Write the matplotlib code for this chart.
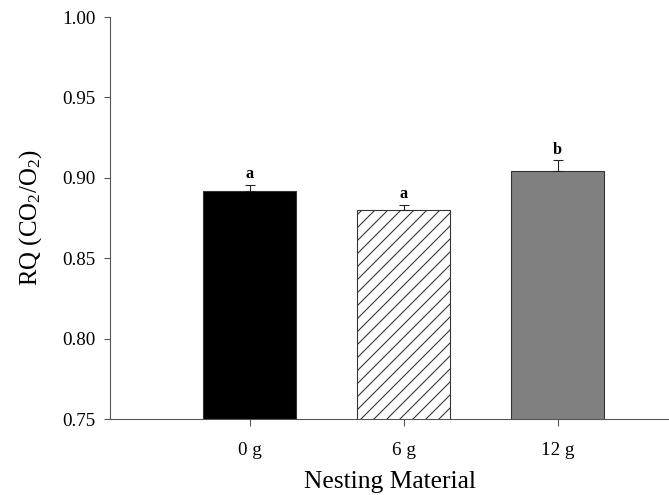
import numpy as np
import matplotlib
matplotlib.use("Agg")
import matplotlib.pyplot as plt

plt.rcParams['font.family'] = ['Liberation Serif', 'DejaVu Serif']
plt.rcParams['mathtext.default'] = 'regular'
plt.rcParams['hatch.linewidth'] = 1.0

groups = ["0 g", "6 g", "12 g"]
rq = [0.892, 0.880, 0.904]
sem = [0.0037, 0.0032, 0.0070]
letters = ["a", "a", "b"]
colors = ["black", "white", "#808080"]
hatches = ["", "//", ""]

dpi = 78
fig = plt.figure(figsize=(669 / dpi, 495 / dpi), dpi=dpi)
ax = fig.add_axes([110 / 669, 76 / 495, 559 / 669, 402 / 495])

x = np.arange(len(groups))
for i in range(len(groups)):
    ax.bar(x[i], rq[i], width=0.6, bottom=0, color=colors[i], hatch=hatches[i],
           edgecolor="#333333", linewidth=1.0, zorder=2)
ax.errorbar(x, rq, yerr=[np.zeros(len(rq)), sem], fmt="none", ecolor="#222222",
            elinewidth=1.0, capsize=5, capthick=1.0, zorder=3)
for i in range(len(groups)):
    ax.text(x[i], rq[i] + sem[i] + 0.0015, letters[i], ha="center", va="bottom",
            fontsize=15, fontweight="bold")

ax.set_xlim(-0.906, 2.724)
ax.set_ylim(0.75, 1.00)
ax.set_yticks([0.75, 0.80, 0.85, 0.90, 0.95, 1.00])
ax.set_yticklabels(["0.75", "0.80", "0.85", "0.90", "0.95", "1.00"])
ax.set_xticks(x)
ax.set_xticklabels(groups)
ax.tick_params(labelsize=17.5, length=6, width=1, color="#555555", pad=7)
ax.tick_params(axis="x", pad=15)

for s in ["top", "right"]:
    ax.spines[s].set_visible(False)
for s in ["left", "bottom"]:
    ax.spines[s].set_color("#555555")
    ax.spines[s].set_linewidth(1.0)

ax.set_xlabel("Nesting Material", fontsize=23.5, labelpad=11)
ax.set_ylabel("RQ (CO$_2$/O$_2$)", fontsize=23, labelpad=17)

fig.savefig("out.png", dpi=dpi)
